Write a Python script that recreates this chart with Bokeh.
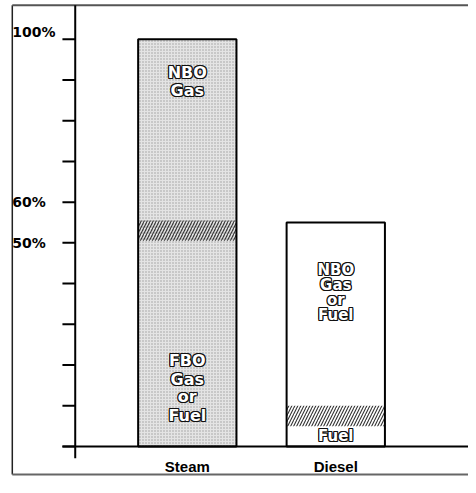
from bokeh.plotting import figure
from bokeh.models import Range1d, ColumnDataSource
from bokeh.embed import file_html
from bokeh.resources import INLINE
from bokeh.core.properties import value

# ---------------- data ----------------
categories = ["Steam", "Diesel"]
totals = [100, 55]            # total fuel/boil-off share, %
lower_part = [53, 7.5]        # FBO gas or fuel (steam) / pilot fuel (diesel), %
y_ticks = [0, 10, 20, 30, 40, 50, 60, 70, 80, 90, 100]
y_label_values = [100, 60, 50]
y_label_texts = ["100%", "60%", "50%"]

# ---------------- layout (in reference-picture pixels) ----------------
W, H = 468, 477          # figure size
RW, RH = 476, 493        # design canvas the ranges cover
X_PX = 151.0             # px per category step
X0_PX = 190.0            # px of first category centre
Y_PX = 4.21              # px per percent
Y0_PX = 461.0            # px of 0 %
BAR_W_PX = 100.0
BAND = 2.5               # half height of hatched band, %


def xd(px):
    return (px - X0_PX) / X_PX


def yd(py):
    return (Y0_PX - py) / Y_PX


xs = list(range(len(categories)))

p = figure(width=W, height=H, x_range=Range1d(xd(0), xd(RW)), y_range=Range1d(yd(RH), yd(0)),
           output_backend="svg", toolbar_location=None, x_axis_type=None, y_axis_type=None,
           min_border=0, min_border_left=0, min_border_right=0, min_border_top=0, min_border_bottom=0)
p.grid.visible = False
p.outline_line_color = None
p.background_fill_color = "white"
p.border_fill_color = "white"

bw = BAR_W_PX / X_PX

# outer frame
p.segment(x0=[xd(12)], y0=[yd(5)], x1=[xd(12)], y1=[yd(490)], line_color="#222", line_width=1.5)
p.segment(x0=[xd(12)], y0=[yd(5)], x1=[xd(RW)], y1=[yd(5)], line_color="#555", line_width=2)
p.segment(x0=[xd(12)], y0=[yd(490)], x1=[xd(RW)], y1=[yd(490)], line_color="#666", line_width=2)

# steam bar stipple fill
p.vbar(x=[xs[0]], top=[totals[0]], bottom=0, width=bw, fill_color="#e4e4e4", line_color=None,
       hatch_pattern="dot", hatch_color="#7a7a7a", hatch_scale=3, hatch_weight=1, hatch_alpha=0.65)
# diesel bar white fill
p.vbar(x=[xs[1]], top=[totals[1]], bottom=0, width=bw, fill_color="white", line_color=None)

# hatched boundary bands
p.vbar(x=xs, top=[v + BAND for v in lower_part], bottom=[v - BAND for v in lower_part], width=bw,
       fill_color=None, line_color=None, hatch_pattern="/", hatch_color="#333", hatch_scale=6,
       hatch_weight=1.1)

# bar outlines
p.vbar(x=xs, top=totals, bottom=0, width=bw, fill_color=None, line_color="black", line_width=2)

# y axis
p.segment(x0=[xd(76)], y0=[yd(5)], x1=[xd(76)], y1=[yd(473)], line_color="black", line_width=2)
p.segment(x0=[xd(63)] * len(y_ticks), y0=y_ticks, x1=[xd(76)] * len(y_ticks), y1=y_ticks,
          line_color="black", line_width=2)
# baseline
p.segment(x0=[xd(63)], y0=[0], x1=[xd(RW)], y1=[0], line_color="black", line_width=2)

# y labels
p.text(x=[xd(12)] * len(y_label_values), y=y_label_values, text=y_label_texts,
       y_offset=[-7, 0, 0], text_align="left", text_baseline="middle",
       text_font=value("DejaVu Sans"), text_font_style="bold", text_font_size="14px", text_color="black")

# x labels
p.text(x=xs, y=[yd(482)] * len(xs), text=categories, text_align="center", text_baseline="middle",
       text_font=value("Liberation Sans"), text_font_style="bold", text_font_size="15px", text_color="black")

# in-bar outlined labels
inner = [
    ("NBO", 0, 91.9, "16px"), ("Gas", 0, 87.4, "16px"),
    ("FBO", 0, 21.2, "16px"), ("Gas", 0, 16.5, "16px"), ("or", 0, 12.2, "16px"), ("Fuel", 0, 7.6, "16px"),
    ("NBO", 1, 43.4, "15px"), ("Gas", 1, 39.6, "15px"), ("or", 1, 36.0, "15px"), ("Fuel", 1, 32.2, "15px"),
    ("Fuel", 1, 2.6, "15px"),
]
for size in ["16px", "15px"]:
    sel = [t for t in inner if t[3] == size]
    src = ColumnDataSource(dict(x=[t[1] for t in sel], y=[t[2] for t in sel], text=[t[0] for t in sel]))
    for dx, dy in [(-1, -1), (1, -1), (-1, 1), (1, 1), (0, -1), (0, 1), (-1, 0), (1, 0)]:
        p.text(x="x", y="y", text="text", source=src, x_offset=dx, y_offset=dy, text_align="center",
               text_baseline="middle", text_font=value("DejaVu Sans"), text_font_style="bold",
               text_font_size=size, text_color="#111")
    p.text(x="x", y="y", text="text", source=src, text_align="center", text_baseline="middle",
           text_font=value("DejaVu Sans"), text_font_style="bold", text_font_size=size, text_color="white")

open("out.html", "w").write(file_html(p, INLINE))
